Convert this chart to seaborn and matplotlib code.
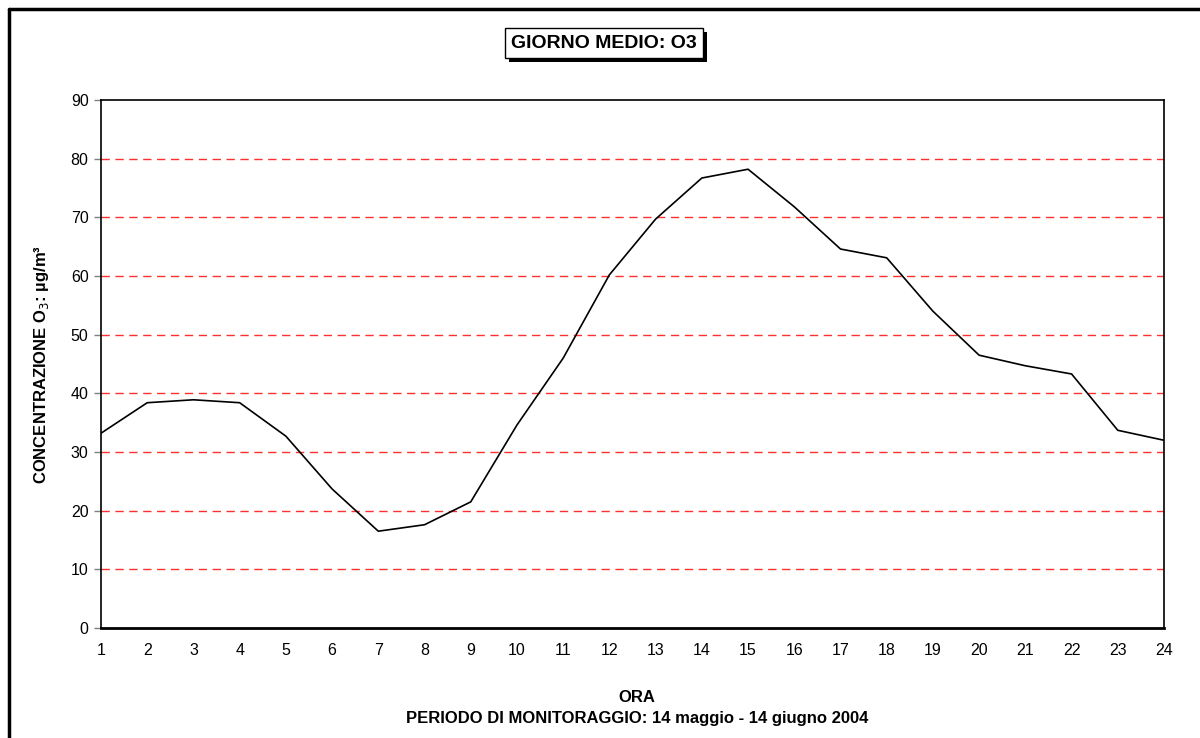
import matplotlib
matplotlib.use("Agg")
import matplotlib.pyplot as plt
import matplotlib.patheffects as pe
from matplotlib.lines import Line2D
import seaborn as sns
import pandas as pd

# hourly mean O3 concentration (ug/m3)
ore = list(range(1, 25))
o3 = [33.2, 38.4, 38.9, 38.4, 32.7, 23.7, 16.5, 17.6, 21.5, 34.6, 46.0, 60.2,
      69.7, 76.7, 78.2, 71.8, 64.6, 63.1, 54.0, 46.5, 44.7, 43.3, 33.7, 32.0]
y_ticks = [0, 10, 20, 30, 40, 50, 60, 70, 80, 90]

sns.set_style("white")
plt.rcParams['font.family'] = ['Liberation Sans', 'DejaVu Sans']
plt.rcParams['text.color'] = 'black'
plt.rcParams['axes.labelcolor'] = 'black'
plt.rcParams['xtick.color'] = 'black'
plt.rcParams['ytick.color'] = 'black'

df = pd.DataFrame({"ora": ore, "o3": o3})

fig = plt.figure(figsize=(12, 7.38), dpi=100)
ax = fig.add_axes([101 / 1200, 1 - 628 / 738, (1164 - 101) / 1200, (628 - 100) / 738])

sns.lineplot(data=df, x="ora", y="o3", ax=ax, color="black", linewidth=1.2)

ax.set_xlim(1, 24)
ax.set_ylim(0, 90)
ax.set_xticks(ore)
ax.set_yticks(y_ticks)
ax.tick_params(axis="x", length=0, pad=11, labelsize=11.5, labelcolor="black")
ax.tick_params(axis="y", length=5, width=1, color="#808080", pad=4, labelsize=11.5,
               labelcolor="black", left=True)

for v in y_ticks[1:-1]:
    ax.axhline(v, color="#ff3030", linestyle=(0, (6, 4)), linewidth=1, zorder=0)

for s in ax.spines.values():
    s.set_color("black")
    s.set_linewidth(1.2)
ax.spines["bottom"].set_linewidth(2)

ax.set_xlabel("")
ax.set_ylabel("CONCENTRAZIONE O$_3$: µg/m³", fontsize=12, fontweight="bold", labelpad=14)

fig.text(637 / 1200, 1 - 697 / 738, "ORA", ha="center", va="center",
         fontsize=12, fontweight="bold")
fig.text(637 / 1200, 1 - 719 / 738, "PERIODO DI MONITORAGGIO: 14 maggio - 14 giugno 2004",
         ha="center", va="center", fontsize=12, fontweight="bold")

t = fig.text(604 / 1200, 1 - 43 / 738, "GIORNO MEDIO: O3", ha="center", va="center",
             fontsize=14, fontweight="bold",
             bbox=dict(boxstyle="square,pad=0.33", facecolor="white", edgecolor="black", linewidth=1))
t.get_bbox_patch().set_path_effects([
    pe.SimplePatchShadow(offset=(3, -3), shadow_rgbFace="black", alpha=1),
    pe.Normal()])

# outer chart frame (top and left edges visible)
fig.add_artist(Line2D([9 / 1200, 1], [1 - 9 / 738, 1 - 9 / 738], color="black", linewidth=2.5,
                      transform=fig.transFigure))
fig.add_artist(Line2D([9 / 1200, 9 / 1200], [0, 1 - 9 / 738], color="black", linewidth=2.5,
                      transform=fig.transFigure))

fig.savefig("out.png", dpi=100)
